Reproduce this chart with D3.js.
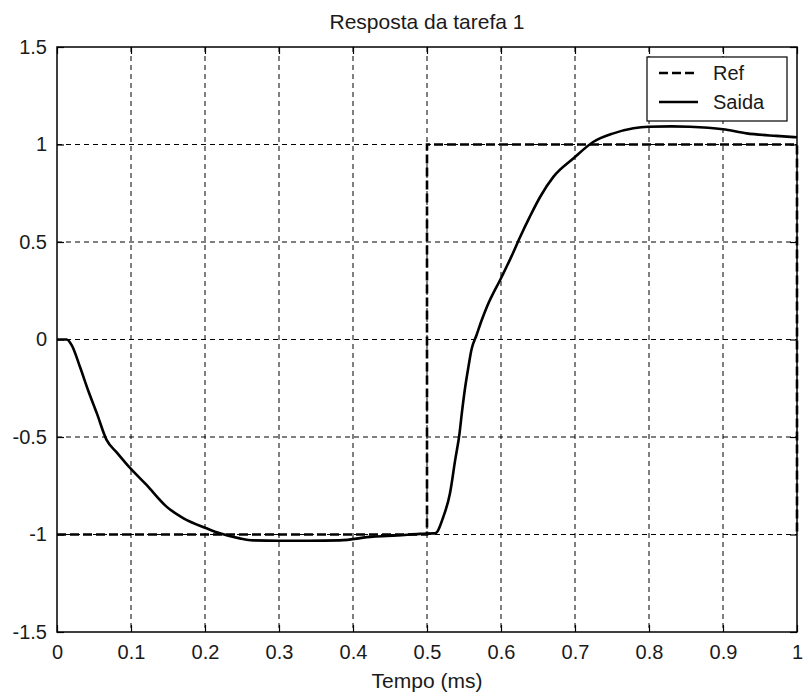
<!DOCTYPE html>
<html><head><meta charset="utf-8">
<script src="https://cdn.jsdelivr.net/npm/d3@7"></script>
<style>body{margin:0;background:#fff}svg{display:block}text{font-family:"Liberation Sans",Arial,sans-serif;fill:#1a1a1a}</style>
</head><body><svg id="c" width="803" height="698"></svg>
<script>
const xTicks = [0,0.1,0.2,0.3,0.4,0.5,0.6,0.7,0.8,0.9,1];
const yTicks = [-1.5,-1,-0.5,0,0.5,1,1.5];
const refT = [0,0.5,0.5,1,1];
const refV = [-1,-1,1,1,-1];
const saidaT = [0,0.013,0.02,0.031,0.042,0.054,0.067,0.081,0.099,0.121,0.148,0.171,0.202,0.22,0.247,0.265,0.3,0.34,0.382,0.427,0.46,0.49,0.508,0.511,0.522,0.531,0.538,0.544,0.547,0.551,0.556,0.56,0.567,0.574,0.581,0.601,0.614,0.626,0.639,0.653,0.671,0.698,0.725,0.752,0.779,0.799,0.83,0.855,0.9,0.932,0.972,1.0];
const saidaV = [0,0,-0.03,-0.14,-0.26,-0.38,-0.515,-0.58,-0.66,-0.746,-0.857,-0.917,-0.968,-0.994,-1.02,-1.03,-1.032,-1.032,-1.03,-1.011,-1.005,-0.997,-0.994,-0.994,-0.91,-0.79,-0.62,-0.48,-0.38,-0.26,-0.14,-0.054,0.023,0.1,0.168,0.322,0.425,0.527,0.63,0.732,0.835,0.929,1.014,1.057,1.083,1.091,1.093,1.091,1.078,1.057,1.044,1.037];
const seriesNames = ["Ref","Saida"];
const title = "Resposta da tarefa 1";
const xLabel = "Tempo (ms)";

const svg = d3.select("#c");
const L=57, R=797, T=47, B=632;
const x = d3.scaleLinear().domain([0,1]).range([L,R]);
const y = d3.scaleLinear().domain([-1.5,1.5]).range([B,T]);
const fmt = d => d===0? "0" : String(d);

// grid
const g = svg.append("g");
g.selectAll(".gx").data(xTicks.slice(1,-1)).join("line")
 .attr("x1",d=>x(d)).attr("x2",d=>x(d)).attr("y1",T).attr("y2",B)
 .attr("stroke","#000").attr("stroke-width",1).attr("stroke-dasharray","5,4");
g.selectAll(".gy").data(yTicks.slice(1,-1)).join("line")
 .attr("y1",d=>y(d)).attr("y2",d=>y(d)).attr("x1",L).attr("x2",R)
 .attr("stroke","#000").attr("stroke-width",1).attr("stroke-dasharray","5,4");

// axes with inward ticks
const ax = svg.append("g").attr("transform",`translate(0,${B})`)
 .call(d3.axisBottom(x).tickValues(xTicks).tickFormat(fmt).tickSizeInner(-7).tickSizeOuter(0).tickPadding(13));
const ay = svg.append("g").attr("transform",`translate(${L},0)`)
 .call(d3.axisLeft(y).tickValues(yTicks).tickFormat(fmt).tickSizeInner(-7).tickSizeOuter(0).tickPadding(10));
svg.append("g").attr("transform",`translate(0,${T})`)
 .call(d3.axisTop(x).tickValues(xTicks).tickFormat("").tickSizeInner(-7).tickSizeOuter(0));
svg.append("g").attr("transform",`translate(${R},0)`)
 .call(d3.axisRight(y).tickValues(yTicks).tickFormat("").tickSizeInner(-7).tickSizeOuter(0));
svg.selectAll(".domain").remove();
svg.selectAll(".tick line").attr("stroke","#000").attr("stroke-width",1.2);
ax.selectAll("text").attr("font-size",20).attr("fill","#1a1a1a").attr("font-family","Liberation Sans, Arial, sans-serif");
ay.selectAll("text").attr("font-size",20).attr("fill","#1a1a1a").attr("font-family","Liberation Sans, Arial, sans-serif");

// frame
svg.append("rect").attr("x",L).attr("y",T).attr("width",R-L).attr("height",B-T)
 .attr("fill","none").attr("stroke","#000").attr("stroke-width",1.5);

// lines
const refData = refT.map((t,i)=>[t,refV[i]]);
const saidaData = saidaT.map((t,i)=>[t,saidaV[i]]);
const lineLin = d3.line().x(d=>x(d[0])).y(d=>y(d[1]));
const lineSm = d3.line().x(d=>x(d[0])).y(d=>y(d[1])).curve(d3.curveMonotoneX);
svg.append("path").attr("d",lineLin(refData)).attr("fill","none").attr("stroke","#000")
 .attr("stroke-width",2.6).attr("stroke-dasharray","9,4");
svg.append("path").attr("d",lineSm(saidaData)).attr("fill","none").attr("stroke","#000")
 .attr("stroke-width",2.6).attr("stroke-linejoin","round");

// title and x label
svg.append("text").attr("x",x(0.5)).attr("y",29).attr("text-anchor","middle").attr("font-size",21).text(title);
svg.append("text").attr("x",x(0.5)).attr("y",688).attr("text-anchor","middle").attr("font-size",21).text(xLabel);

// legend
const lg = svg.append("g");
lg.append("rect").attr("x",647).attr("y",57).attr("width",140).attr("height",64)
 .attr("fill","#fff").attr("stroke","#000").attr("stroke-width",1.2);
const ly = [73,102];
lg.append("line").attr("x1",659).attr("x2",698).attr("y1",ly[0]).attr("y2",ly[0])
 .attr("stroke","#000").attr("stroke-width",2.6).attr("stroke-dasharray","9,4");
lg.append("line").attr("x1",659).attr("x2",698).attr("y1",ly[1]).attr("y2",ly[1])
 .attr("stroke","#000").attr("stroke-width",2.6);
seriesNames.forEach((n,i)=>{
  lg.append("text").attr("x",713).attr("y",ly[i]+7).attr("font-size",20).text(n);
});
</script></body></html>
